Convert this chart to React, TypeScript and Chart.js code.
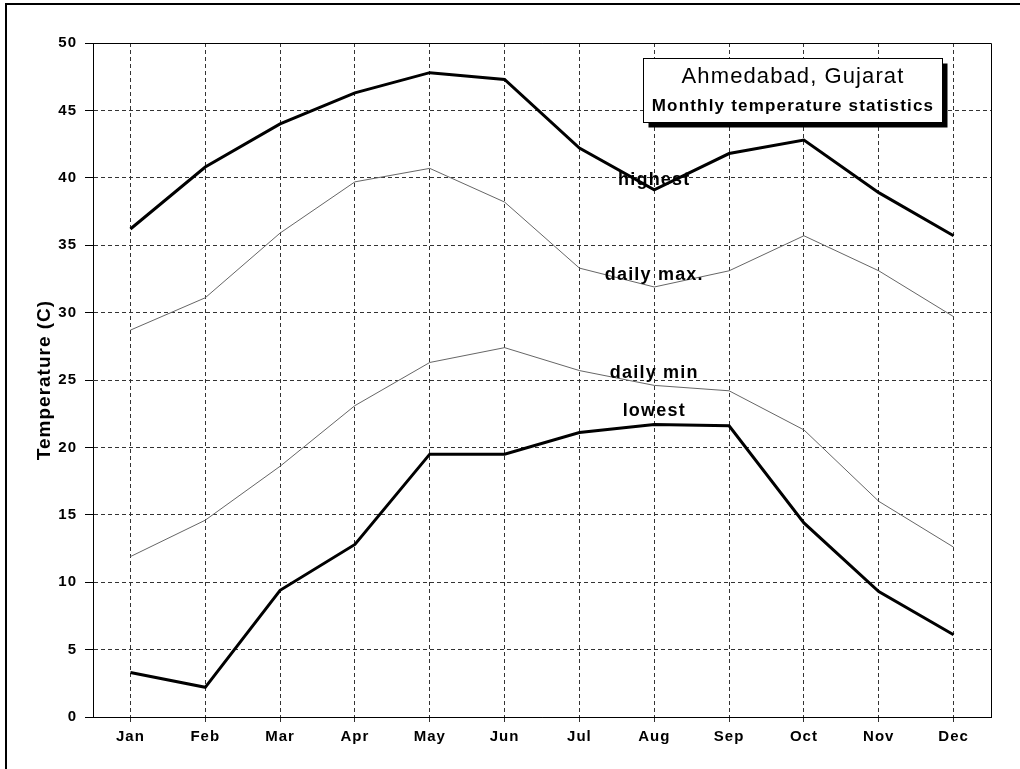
import { useEffect, useRef } from 'react';
import { Chart, registerables } from 'chart.js';

Chart.register(...registerables);

const months = ['Jan', 'Feb', 'Mar', 'Apr', 'May', 'Jun', 'Jul', 'Aug', 'Sep', 'Oct', 'Nov', 'Dec'];
const highest = [36.2, 40.8, 44.0, 46.3, 47.8, 47.3, 42.2, 39.1, 41.8, 42.8, 38.9, 35.7];
const dailyMax = [28.7, 31.1, 35.9, 39.7, 40.7, 38.2, 33.3, 31.9, 33.1, 35.7, 33.1, 29.7];
const dailyMin = [11.9, 14.6, 18.6, 23.1, 26.3, 27.4, 25.7, 24.6, 24.2, 21.3, 16.0, 12.6];
const lowest = [3.3, 2.2, 9.4, 12.8, 19.5, 19.5, 21.1, 21.7, 21.6, 14.4, 9.3, 6.1];

const seriesNames = ['highest', 'daily max.', 'daily min', 'lowest'];
const seriesLabelAt = [39.8, 32.8, 25.5, 22.7];
const seriesLabelMonth = 7;

const titleLine1 = 'Ahmedabad, Gujarat';
const titleLine2 = 'Monthly temperature statistics';
const yAxisTitle = 'Temperature (C)';

const FONT = '"Liberation Sans", Arial, Helvetica, sans-serif';

const deco = {
  id: 'deco',
  beforeDraw(chart: any) {
    const ctx = chart.ctx;
    ctx.save();
    ctx.fillStyle = '#fff';
    ctx.fillRect(0, 0, chart.width, chart.height);
    ctx.restore();
    ctx.letterSpacing = '1px';
  },
  beforeDatasetsDraw(chart: any) {
    const ctx = chart.ctx;
    const a = chart.chartArea;
    ctx.save();
    ctx.strokeStyle = '#000';
    ctx.lineWidth = 1;
    ctx.beginPath();
    ctx.moveTo(a.left, Math.round(a.top) + 0.5);
    ctx.lineTo(Math.round(a.right) + 0.5, Math.round(a.top) + 0.5);
    ctx.lineTo(Math.round(a.right) + 0.5, a.bottom);
    ctx.stroke();
    ctx.restore();
  },
  afterDatasetsDraw(chart: any) {
    const ctx = chart.ctx;
    const a = chart.chartArea;
    const xs = chart.scales.x;
    const ys = chart.scales.y;
    ctx.save();
    // series labels
    ctx.fillStyle = '#000';
    ctx.font = `bold 18px ${FONT}`;
    ctx.letterSpacing = '1.2px';
    ctx.textAlign = 'center';
    ctx.textBaseline = 'middle';
    const lx = xs.getPixelForValue(seriesLabelMonth);
    seriesNames.forEach((n, i) => {
      ctx.fillText(n, lx, ys.getPixelForValue(seriesLabelAt[i]));
    });
    // title box
    const bw = 299;
    const bh = 64;
    const bx = Math.round(a.right) - 348 + 0.5;
    const by = Math.round(a.top) + 15 + 0.5;
    ctx.fillStyle = '#000';
    ctx.fillRect(bx + 5, by + 5, bw, bh);
    ctx.fillStyle = '#fff';
    ctx.fillRect(bx, by, bw, bh);
    ctx.strokeStyle = '#000';
    ctx.lineWidth = 1;
    ctx.strokeRect(bx, by, bw, bh);
    ctx.fillStyle = '#000';
    ctx.textBaseline = 'alphabetic';
    ctx.font = `22px ${FONT}`;
    ctx.letterSpacing = '1.1px';
    ctx.fillText(titleLine1, bx + bw / 2, by + 24);
    ctx.font = `bold 17px ${FONT}`;
    ctx.letterSpacing = '1.2px';
    ctx.fillText(titleLine2, bx + bw / 2, by + 52);
    ctx.restore();
  },
  afterDraw(chart: any) {
    const ctx = chart.ctx;
    ctx.save();
    ctx.strokeStyle = '#000';
    ctx.lineWidth = 2;
    ctx.beginPath();
    ctx.moveTo(6, chart.height);
    ctx.lineTo(6, 4);
    ctx.lineTo(chart.width, 4);
    ctx.stroke();
    ctx.restore();
  },
};

export default function App() {
  const ref = useRef<HTMLCanvasElement>(null);
  useEffect(() => {
    const canvas = ref.current!;
    const tickFont = { family: FONT, size: 15, weight: 'bold' as const };
    const chart = new Chart(canvas, {
      type: 'line',
      data: {
        labels: months,
        datasets: [
          { label: seriesNames[0], data: highest, borderColor: '#000', borderWidth: 3, pointRadius: 0, tension: 0 },
          { label: seriesNames[1], data: dailyMax, borderColor: '#666', borderWidth: 1, pointRadius: 0, tension: 0 },
          { label: seriesNames[2], data: dailyMin, borderColor: '#666', borderWidth: 1, pointRadius: 0, tension: 0 },
          { label: seriesNames[3], data: lowest, borderColor: '#000', borderWidth: 3, pointRadius: 0, tension: 0 },
        ],
      },
      options: {
        responsive: false,
        animation: false,
        devicePixelRatio: 1,
        layout: { padding: { top: 43, right: 29, left: 0, bottom: 0 } },
        plugins: {
          legend: { display: false },
          tooltip: { enabled: false },
          title: { display: false },
        },
        scales: {
          x: {
            type: 'category',
            offset: true,
            grid: {
              offset: false,
              color: '#333',
              lineWidth: 1,
              drawTicks: true,
              tickLength: 5,
              tickColor: '#333',
              tickBorderDash: [4, 3],
            },
            border: { display: true, color: '#000', width: 1, dash: [4, 3] },
            ticks: { color: '#000', font: tickFont, padding: 6, maxRotation: 0, autoSkip: false },
            afterFit: (s: any) => { s.height = 52; },
          },
          y: {
            min: 0,
            max: 50,
            ticks: { stepSize: 5, padding: 8, color: '#000', font: tickFont },
            grid: { color: '#333', lineWidth: 1, tickLength: 8, tickColor: '#000', tickBorderDash: [] },
            border: { display: true, color: '#000', width: 1, dash: [4, 3] },
            title: {
              display: true,
              text: yAxisTitle,
              color: '#000',
              font: { family: FONT, size: 19, weight: 'bold' },
              padding: { top: 33, bottom: 0 },
            },
            afterFit: (s: any) => { s.width = 93; },
          },
        },
      },
      plugins: [deco],
    });
    return () => chart.destroy();
  }, []);
  return (
    <div style={{ position: 'absolute', left: 0, top: 0, width: 1020, height: 769, background: '#fff' }}>
      <canvas ref={ref} width={1020} height={769} style={{ display: 'block' }} />
    </div>
  );
}
